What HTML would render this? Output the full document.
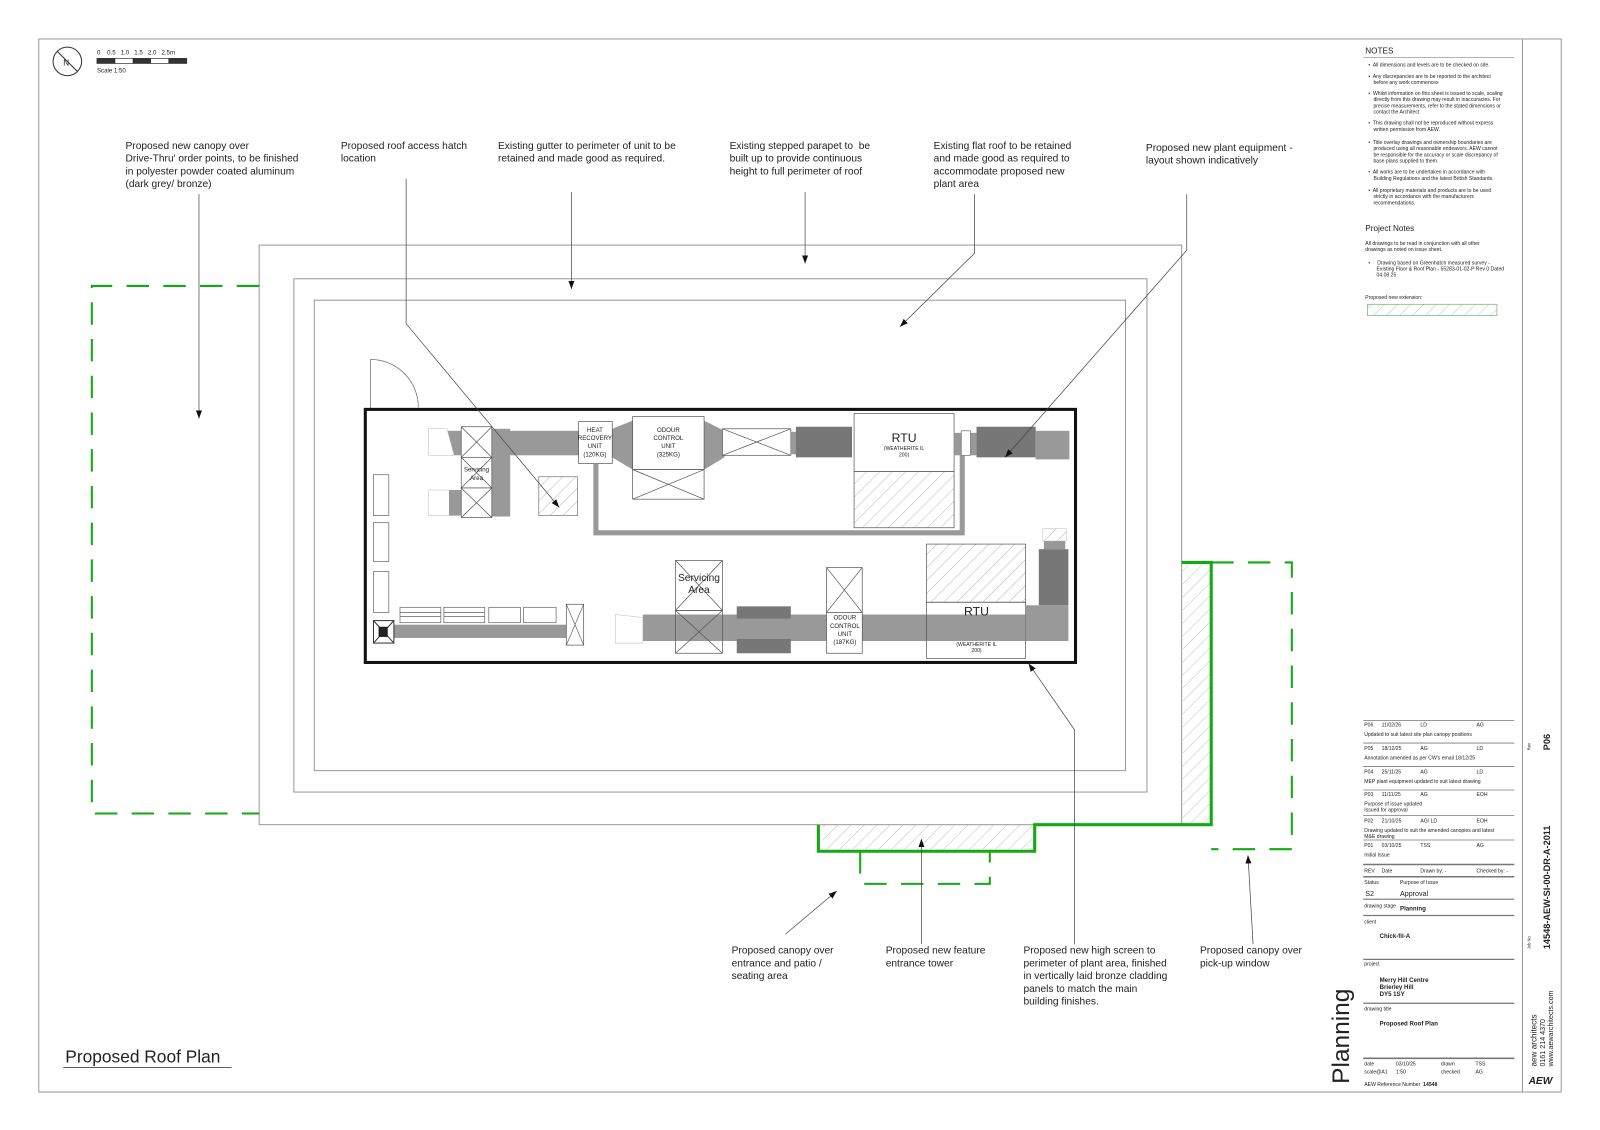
<!DOCTYPE html>
<html><head><meta charset="utf-8">
<style>
html,body{margin:0;padding:0;background:#fff;}
svg{display:block;}
text{font-family:"Liberation Sans",sans-serif;fill:#222;white-space:pre;}
</style></head><body>
<svg width="1600" height="1130" viewBox="0 0 1568 1107" xmlns="http://www.w3.org/2000/svg" xml:space="preserve">
<defs>
<pattern id="h" width="9" height="9" patternUnits="userSpaceOnUse" patternTransform="rotate(45)">
<line x1="0" y1="0" x2="0" y2="9" stroke="#999" stroke-width="0.7"/></pattern>
<pattern id="hg" width="9" height="9" patternUnits="userSpaceOnUse" patternTransform="rotate(45)">
<line x1="0" y1="0" x2="0" y2="9" stroke="#9a9" stroke-width="0.7"/></pattern>
<marker id="a" markerWidth="8" markerHeight="6" refX="8" refY="3" orient="auto" markerUnits="userSpaceOnUse">
<path d="M0,0 L8,3 L0,6z" fill="#111"/></marker>
</defs>
<rect width="1568" height="1107" fill="#fff"/>
<rect x="38" y="38" width="1492" height="1032" fill="none" stroke="#999" stroke-width="1"/>
<line x1="1492" y1="38" x2="1492" y2="1070" stroke="#999" stroke-width="1"/>

<circle cx="66" cy="60" r="14" fill="none" stroke="#333"/>
<path d="M56,50 L76,70" stroke="#333"/><text x="62" y="64" font-size="8">N</text>
<text x="95" y="53" font-size="6">0    0.5   1.0   1.5   2.0   2.5m</text>
<rect x="95" y="57" width="88" height="5" fill="none" stroke="#333" stroke-width="0.7"/>
<rect x="95" y="57" width="18" height="5" fill="#333"/><rect x="130" y="57" width="18" height="5" fill="#333"/><rect x="165" y="57" width="18" height="5" fill="#333"/>
<text x="95" y="71" font-size="6">Scale 1:50</text>

<rect x="254" y="240" width="904" height="568" fill="none" stroke="#999" stroke-width="1"/>
<rect x="288" y="273" width="836" height="503" fill="none" stroke="#999" stroke-width="1"/>
<rect x="308" y="294" width="795" height="461" fill="none" stroke="#999" stroke-width="1"/>

<path d="M254,280 H90 V797 H254" fill="none" stroke="#1a1" stroke-width="2" stroke-dasharray="22,14"/>
<rect x="806" y="808" width="206" height="24" fill="url(#hg)"/>
<rect x="1159" y="554" width="27" height="253" fill="url(#hg)"/>
<path d="M1158,551 H1187 V808 H1014 V834 H802 V808" fill="none" stroke="#1a1" stroke-width="3"/>
<path d="M1187,551 H1266 V832 H1187" fill="none" stroke="#1a1" stroke-width="2" stroke-dasharray="22,14"/>
<path d="M843,834 V866 H970 V834" fill="none" stroke="#1a1" stroke-width="2" stroke-dasharray="22,14"/>

<path d="M363,352 V400 M363,352 A47,47 0 0 1 410,399" fill="none" stroke="#777" stroke-width="0.8"/>

<rect x="358" y="401" width="696" height="248" fill="none" stroke="#111" stroke-width="3"/>

<rect x="420" y="422" width="150" height="24" fill="#999"/>
<rect x="482" y="420" width="18" height="86" fill="#999"/>
<path d="M420,420 L438,420 L445,446 L420,446z" fill="#fff" stroke="#bbb" stroke-width="0.5"/>
<path d="M420,480 L440,480 L450,505 L420,505z" fill="#fff" stroke="#bbb" stroke-width="0.5"/>
<rect x="440" y="480" width="42" height="25" fill="#999"/>
<g fill="#fff" stroke="#555" stroke-width="0.7">
<rect x="452" y="418" width="30" height="30"/><path d="M452,418 L482,448 M482,418 L452,448"/>
<rect x="452" y="448" width="30" height="30"/><path d="M452,448 L482,478 M482,448 L452,478"/>
<rect x="452" y="478" width="30" height="29"/><path d="M452,478 L482,507 M482,478 L452,507"/>
</g>
<text x="467" y="462" font-size="6" text-anchor="middle">Servicing</text><text x="467" y="470" font-size="6" text-anchor="middle">Area</text>
<rect x="528" y="467" width="38" height="38" fill="url(#h)" stroke="#777" stroke-width="0.7"/>
<path d="M600,420 L620,412 L620,460 L600,448z" fill="#999"/>
<path d="M690,412 L710,422 L710,448 L690,460z" fill="#999"/>
<rect x="567" y="413" width="33" height="41" fill="#fff" stroke="#555" stroke-width="0.7"/>
<text x="583" y="423" font-size="6" text-anchor="middle">HEAT</text><text x="583" y="431" font-size="6" text-anchor="middle">RECOVERY</text><text x="583" y="439" font-size="6" text-anchor="middle">UNIT</text><text x="583" y="447" font-size="6" text-anchor="middle">(120KG)</text>
<rect x="620" y="408" width="70" height="52" fill="#fff" stroke="#555" stroke-width="0.7"/>
<text x="655" y="423" font-size="6" text-anchor="middle">ODOUR</text><text x="655" y="431" font-size="6" text-anchor="middle">CONTROL</text><text x="655" y="439" font-size="6" text-anchor="middle">UNIT</text><text x="655" y="447" font-size="6" text-anchor="middle">(325KG)</text>
<rect x="620" y="460" width="70" height="29" fill="#fff" stroke="#555" stroke-width="0.7"/><path d="M620,460 L690,489 M690,460 L620,489" stroke="#555" stroke-width="0.7"/>
<rect x="708" y="420" width="67" height="26" fill="#fff" stroke="#555" stroke-width="0.7"/><path d="M708,420 L775,446 M775,420 L708,446" stroke="#555" stroke-width="0.7"/>
<rect x="775" y="423" width="8" height="22" fill="#999"/>
<rect x="780" y="418" width="55" height="30" fill="#777"/>
<rect x="837" y="405" width="98" height="57" fill="#fff" stroke="#555" stroke-width="0.7"/>
<rect x="837" y="462" width="98" height="55" fill="url(#h)" stroke="#555" stroke-width="0.7"/>
<text x="886" y="433" font-size="12" text-anchor="middle">RTU</text>
<text x="886" y="441" font-size="5" text-anchor="middle">(WEATHERITE IL</text><text x="886" y="447" font-size="5" text-anchor="middle">200)</text>
<rect x="935" y="424" width="7" height="22" fill="#999"/>
<rect x="942" y="422" width="9" height="24" fill="#fff" stroke="#555" stroke-width="0.6"/>
<rect x="951" y="424" width="6" height="22" fill="#999"/>
<rect x="957" y="418" width="58" height="30" fill="#777"/>
<rect x="1015" y="422" width="33" height="28" fill="#999"/>
<path d="M584,454 V522 H943 V446" fill="none" stroke="#999" stroke-width="5"/>

<g fill="#fff" stroke="#777" stroke-width="0.8">
<rect x="366" y="465" width="15" height="40"/><rect x="366" y="512" width="15" height="38"/><rect x="366" y="560" width="15" height="40"/>
<rect x="392" y="595" width="40" height="15"/><rect x="435" y="595" width="40" height="15"/><rect x="479" y="595" width="31" height="15"/><rect x="513" y="595" width="32" height="15"/>
</g>
<path d="M392,600 H432 M392,604 H432 M435,600 H475 M435,604 H475" stroke="#777" stroke-width="0.8"/>
<rect x="386" y="612" width="184" height="13" fill="#999"/>
<rect x="366" y="608" width="20" height="22" fill="#fff" stroke="#333"/><path d="M366,608 L386,630 M386,608 L366,630" stroke="#333"/><rect x="371" y="614" width="9" height="10" fill="#222"/>
<rect x="555" y="592" width="17" height="40" fill="#fff" stroke="#555" stroke-width="0.7"/><path d="M555,592 L572,632 M572,592 L555,632" stroke="#555" stroke-width="0.6"/>
<rect x="630" y="602" width="380" height="26" fill="#999"/>
<path d="M603,602 L630,605 L630,630 L603,630z" fill="#fff" stroke="#bbb" stroke-width="0.5"/>
<rect x="722" y="594" width="53" height="12" fill="#777"/><rect x="722" y="626" width="53" height="14" fill="#777"/>
<g fill="none" stroke="#555" stroke-width="0.7">
<rect x="662" y="549" width="46" height="49" fill="#fff"/><path d="M662,549 L708,598 M708,549 L662,598"/>
<rect x="662" y="598" width="46" height="42"/><path d="M662,598 L708,640 M708,598 L662,640"/>
<rect x="810" y="556" width="35" height="44" fill="#fff"/><path d="M810,556 L845,600 M845,556 L810,600"/>
<rect x="810" y="600" width="35" height="40" fill="#fff"/>
</g>
<text x="685" y="569" font-size="10" text-anchor="middle">Servicing</text><text x="685" y="581" font-size="10" text-anchor="middle">Area</text>
<text x="828" y="607" font-size="6" text-anchor="middle">ODOUR</text><text x="828" y="615" font-size="6" text-anchor="middle">CONTROL</text><text x="828" y="623" font-size="6" text-anchor="middle">UNIT</text><text x="828" y="631" font-size="6" text-anchor="middle">(187KG)</text>
<rect x="908" y="533" width="97" height="57" fill="url(#h)" stroke="#555" stroke-width="0.7"/>
<rect x="908" y="590" width="97" height="55" fill="none" stroke="#555" stroke-width="0.7"/>
<text x="957" y="603" font-size="12" text-anchor="middle">RTU</text>
<text x="957" y="633" font-size="5" text-anchor="middle">(WEATHERITE IL</text><text x="957" y="639" font-size="5" text-anchor="middle">200)</text>
<rect x="1022" y="518" width="23" height="12" fill="url(#h)" stroke="#bbb" stroke-width="0.5"/>
<rect x="1023" y="530" width="21" height="8" fill="#999"/>
<rect x="1018" y="538" width="29" height="55" fill="#777"/>
<rect x="1005" y="593" width="42" height="35" fill="#999"/>

<g fill="none" stroke="#444" stroke-width="0.7" marker-end="url(#a)">
<path d="M195,190 V410"/>
<path d="M398,175 V317 L548,497"/>
<path d="M560,188 V283"/>
<path d="M789,188 V258"/>
<path d="M955,190 V248 L882,320"/>
<path d="M1163,190 V245 L985,448"/>
<path d="M770,915 L820,873"/>
<path d="M903,925 V822"/>
<path d="M1053,925 V715 L1008,650"/>
<path d="M1228,925 L1223,838"/>
</g>
<g font-size="10">
<text x="123" y="146">Proposed new canopy over</text><text x="123" y="158">Drive-Thru' order points, to be finished</text><text x="123" y="171">in polyester powder coated aluminum</text><text x="123" y="183">(dark grey/ bronze)</text>
<text x="334" y="146">Proposed roof access hatch</text><text x="334" y="158">location</text>
<text x="488" y="146">Existing gutter to perimeter of unit to be</text><text x="488" y="158">retained and made good as required.</text>
<text x="715" y="146">Existing stepped parapet to  be</text><text x="715" y="158">built up to provide continuous</text><text x="715" y="171">height to full perimeter of roof</text>
<text x="915" y="146">Existing flat roof to be retained</text><text x="915" y="158">and made good as required to</text><text x="915" y="171">accommodate proposed new</text><text x="915" y="183">plant area</text>
<text x="1123" y="148">Proposed new plant equipment -</text><text x="1123" y="160">layout shown indicatively</text>
<text x="717" y="934">Proposed canopy over</text><text x="717" y="947">entrance and patio /</text><text x="717" y="959">seating area</text>
<text x="868" y="934">Proposed new feature</text><text x="868" y="947">entrance tower</text>
<text x="1003" y="934">Proposed new high screen to</text><text x="1003" y="947">perimeter of plant area, finished</text><text x="1003" y="959">in vertically laid bronze cladding</text><text x="1003" y="972">panels to match the main</text><text x="1003" y="984">building finishes.</text>
<text x="1176" y="934">Proposed canopy over</text><text x="1176" y="947">pick-up window</text>
</g>
<text x="64" y="1041" font-size="17">Proposed Roof Plan</text>
<line x1="62" y1="1046" x2="227" y2="1046" stroke="#444" stroke-width="0.8"/>

<text x="1338" y="52" font-size="8">NOTES</text>
<line x1="1336" y1="56" x2="1484" y2="56" stroke="#999" stroke-width="0.8"/>
<g font-size="5" fill="#444">
<text x="1341" y="65">•  All dimensions and levels are to be checked on site.</text>
<text x="1341" y="76">•  Any discrepancies are to be reported to the architect</text><text x="1346" y="82">before any work commences</text>
<text x="1341" y="93">•  Whilst information on this sheet is issued to scale, scaling</text><text x="1346" y="99">directly from this drawing may result in inaccuracies. For</text><text x="1346" y="105">precise measurements, refer to the stated dimensions or</text><text x="1346" y="111">contact the Architect</text>
<text x="1341" y="122">•  This drawing shall not be reproduced without express</text><text x="1346" y="128">written permission from AEW.</text>
<text x="1341" y="141">•  Title overlay drawings and ownership boundaries are</text><text x="1346" y="147">produced using all reasonable endeavors. AEW cannot</text><text x="1346" y="153">be responsible for the accuracy or scale discrepancy of</text><text x="1346" y="159">base plans supplied to them.</text>
<text x="1341" y="170">•  All works are to be undertaken in accordance with</text><text x="1346" y="176">Building Regulations and the latest British Standards.</text>
<text x="1341" y="188">•  All proprietary materials and products are to be used</text><text x="1346" y="194">strictly in accordance with the manufacturers</text><text x="1346" y="200">recommendations.</text>
<text x="1338" y="240">All drawings to be read in conjunction with all other</text><text x="1338" y="246">drawings as noted on issue sheet.</text>
<text x="1341" y="259">•     Drawing based on Greenhatch measured survey -</text><text x="1349" y="265">Existing Floor &amp; Roof Plan - 55283-01-02-P Rev 0 Dated</text><text x="1349" y="271">04.08.25</text>
<text x="1338" y="293">Proposed new extension:</text>
</g>
<text x="1338" y="226" font-size="8">Project Notes</text>
<rect x="1340" y="298" width="127" height="11" fill="url(#hg)" stroke="#6b6" stroke-width="0.7"/>

<g font-size="5" fill="#444">
<text x="1337" y="712">P06</text><text x="1354" y="712">11/02/26</text><text x="1392" y="712">LD</text><text x="1447" y="712">AG</text><text x="1337" y="721">Updated to suit latest site plan canopy positions</text>
<text x="1337" y="735">P05</text><text x="1354" y="735">18/12/25</text><text x="1392" y="735">AG</text><text x="1447" y="735">LD</text><text x="1337" y="744">Annotation amended as per CW's email 18/12/25</text>
<text x="1337" y="758">P04</text><text x="1354" y="758">25/11/25</text><text x="1392" y="758">AG</text><text x="1447" y="758">LD</text><text x="1337" y="767">MEP plant equipment updated to suit latest drawing</text>
<text x="1337" y="780">P03</text><text x="1354" y="780">11/11/25</text><text x="1392" y="780">AG</text><text x="1447" y="780">EOH</text><text x="1337" y="789">Purpose of issue updated</text><text x="1337" y="795">Issued for approval</text>
<text x="1337" y="806">P02</text><text x="1354" y="806">21/10/25</text><text x="1392" y="806">AG/ LD</text><text x="1447" y="806">EOH</text><text x="1337" y="815">Drawing updated to suit the amended canopies and latest</text><text x="1337" y="821">M&amp;E drawing</text>
<text x="1337" y="830">P01</text><text x="1354" y="830">03/10/25</text><text x="1392" y="830">TSS</text><text x="1447" y="830">AG</text><text x="1337" y="839">Initial Issue</text>
<text x="1337" y="855">REV</text><text x="1354" y="855">Date</text><text x="1392" y="855">Drawn by: -</text><text x="1447" y="855">Checked by: -</text>
<text x="1337" y="866">Status</text><text x="1372" y="866">Purpose of Issue</text>
<text x="1337" y="889">drawing stage</text>
<text x="1337" y="905">client</text>
<text x="1337" y="946">project</text>
<text x="1337" y="990">drawing title</text>
<text x="1337" y="1044">date</text><text x="1368" y="1044">03/10/25</text><text x="1412" y="1044">drawn</text><text x="1446" y="1044">TSS</text>
<text x="1337" y="1052">scale@A1</text><text x="1368" y="1052">1:50</text><text x="1412" y="1052">checked</text><text x="1446" y="1052">AG</text>
<text x="1337" y="1064">AEW Reference Number  <tspan font-weight="bold">14548</tspan></text>
</g>
<g stroke="#777" stroke-width="0.8">
<line x1="1336" y1="706" x2="1484" y2="706"/><line x1="1336" y1="728" x2="1484" y2="728"/><line x1="1336" y1="751" x2="1484" y2="751"/><line x1="1336" y1="774" x2="1484" y2="774"/><line x1="1336" y1="799" x2="1484" y2="799"/><line x1="1336" y1="823" x2="1484" y2="823"/>
<line x1="1336" y1="847" x2="1484" y2="847" stroke-width="1.4"/><line x1="1336" y1="859" x2="1484" y2="859" stroke-width="1.4"/>
<line x1="1336" y1="881" x2="1484" y2="881" stroke-width="1.2"/><line x1="1336" y1="897" x2="1484" y2="897" stroke-width="1.2"/>
<line x1="1336" y1="940" x2="1484" y2="940" stroke-width="1.2"/><line x1="1336" y1="983" x2="1484" y2="983" stroke-width="1.2"/><line x1="1336" y1="1037" x2="1484" y2="1037" stroke-width="1.6"/>
</g>
<text x="1338" y="878" font-size="7">S2</text><text x="1372" y="878" font-size="7">Approval</text>
<text x="1372" y="892" font-size="6" font-weight="bold">Planning</text>
<text x="1352" y="919" font-size="6" font-weight="bold">Chick-fil-A</text>
<text x="1352" y="962" font-size="6" font-weight="bold">Merry Hill Centre</text><text x="1352" y="969" font-size="6" font-weight="bold">Brierley Hill</text><text x="1352" y="976" font-size="6" font-weight="bold">DY5 1SY</text>
<text x="1352" y="1005" font-size="6" font-weight="bold">Proposed Roof Plan</text>
<text transform="translate(1322,1062) rotate(-90)" font-size="24">Planning</text>

<text transform="translate(1519,735) rotate(-90)" font-size="9" font-weight="bold">P06</text>
<text transform="translate(1500,735) rotate(-90)" font-size="4">Rev</text>
<text transform="translate(1519,930) rotate(-90)" font-size="9" font-weight="bold">14548-AEW-SI-00-DR-A-2011</text>
<text transform="translate(1500,930) rotate(-90)" font-size="4">Job No</text>
<text transform="translate(1506,1045) rotate(-90)" font-size="8">aew architects</text>
<text transform="translate(1514,1045) rotate(-90)" font-size="7">0161 214 4370</text>
<text transform="translate(1522,1045) rotate(-90)" font-size="7">www.aewarchitects.com</text>
<text x="1498" y="1062" font-size="10" font-weight="bold" font-style="italic">AEW</text>
</svg>
</body></html>
